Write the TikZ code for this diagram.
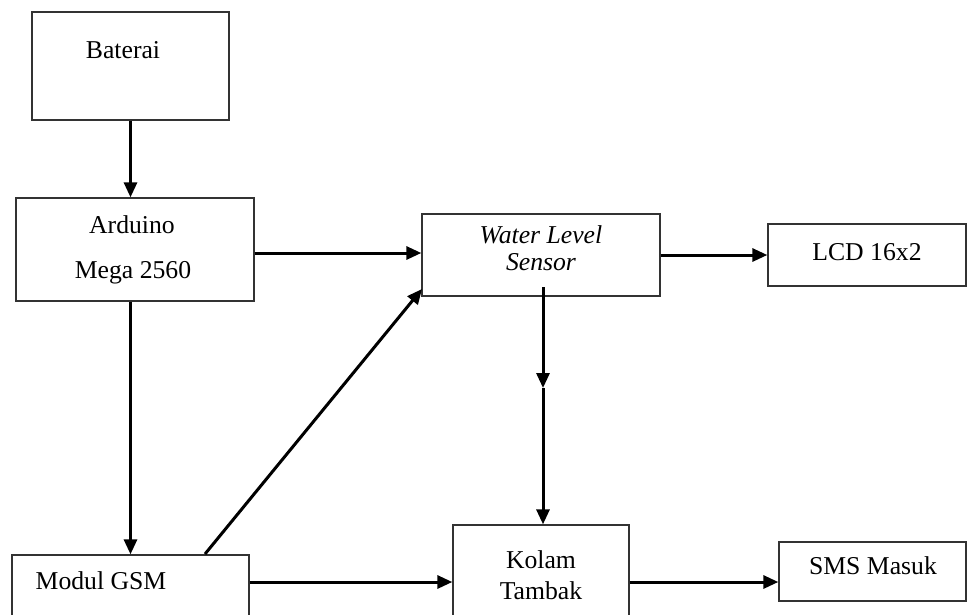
\documentclass[tikz,border=0pt]{standalone}
\usepackage{fontspec}
\setmainfont{Liberation Serif}
\usetikzlibrary{arrows.meta,calc}
\begin{document}
\begin{tikzpicture}[x=1pt,y=-1pt,
  box/.style={draw=black!80,line width=1.3pt,fill=white,inner sep=0pt},
  lbl/.style={inner sep=0pt,font=\fontsize{25.7}{30}\selectfont},
  arr/.style={line width=3pt,-{Triangle[length=15pt,width=13pt]}}]
\clip (0,0) rectangle (968,614);
\fill[white] (0,0) rectangle (968,614);
% boxes
\node[box,minimum width=197pt,minimum height=108pt] (bat) at (130.5,66) {};
\node[box,minimum width=238pt,minimum height=103pt] (ard) at (135,249.5) {};
\node[box,minimum width=237pt,minimum height=90pt] (gsm) at (130.5,600) {};
\node[box,minimum width=238pt,minimum height=82pt] (wls) at (541,255) {};
\node[box,minimum width=198pt,minimum height=62pt] (lcd) at (867,255) {};
\node[box,minimum width=176pt,minimum height=120pt] (kol) at (541,585) {};
\node[box,minimum width=187pt,minimum height=59pt] (sms) at (872.5,571.5) {};
% texts
\node[lbl] (batt) at (123,50) {Baterai};
\node[lbl] (ardt1) at (132,225) {Arduino};
\node[lbl] (ardt2) at (133,273) {Mega 2560};
\node[lbl] (gsmt) at (101,581) {Modul GSM};
\node[lbl] (wlst1) at (541,235) {\itshape Water Level};
\node[lbl] (wlst2) at (541,262) {\itshape Sensor};
\node[lbl] (lcdt) at (867,252) {LCD 16x2};
\node[lbl] (kolt1) at (541,560) {Kolam};
\node[lbl] (kolt2) at (541,591) {Tambak};
\node[lbl] (smst) at (873,566) {SMS Masuk};
% coordinates
\coordinate (wlsout) at (543,287);
\coordinate (mid) at (543,388);
\coordinate (gsmdiag) at (205,554);
\coordinate (wlsin) at (422,289);
% connectors
\draw[arr] (bat.south) -- (bat.south |- ard.north);
\draw[arr] (bat.south |- ard.south) -- (bat.south |- gsm.north);
\draw[arr] (ard.east |- 0,253) -- (wls.west |- 0,253);
\draw[arr] (gsmdiag) -- (wlsin);
\draw[arr] (wls.east) -- (lcd.west);
\draw[arr] (wlsout) -- (mid);
\draw[arr] (mid) -- (mid |- kol.north);
\draw[arr] (gsm.east |- 0,582) -- (kol.west |- 0,582);
\draw[arr] (kol.east |- 0,582) -- (sms.west |- 0,582);
\end{tikzpicture}
\end{document}
